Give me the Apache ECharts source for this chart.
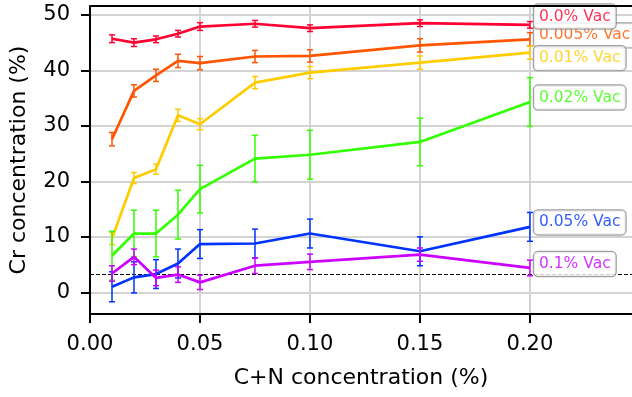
<!DOCTYPE html>
<html>
<head>
<meta charset="utf-8">
<script src="https://cdn.jsdelivr.net/npm/echarts@6/dist/echarts.min.js"></script>
<style>
  html, body { margin: 0; padding: 0; background: #fff; }
  #chart { width: 632px; height: 397px; }
</style>
</head>
<body>
<div id="chart"></div>
<script>
// C+N concentration (%)
const xVals = [0.01, 0.02, 0.03, 0.04, 0.05, 0.075, 0.10, 0.15, 0.20];

// Cr concentration (%) and error for each vacancy level
const vac0 = [45.7, 45.0, 45.6, 46.6, 47.9, 48.4, 47.6, 48.5, 48.2];
const err0 = [0.7, 0.7, 0.6, 0.6, 0.7, 0.6, 0.6, 0.6, 0.6];
const vac005 = [27.6, 36.3, 39.1, 41.7, 41.3, 42.5, 42.6, 44.5, 45.6];
const err005 = [1.2, 1.1, 1.1, 1.2, 1.2, 1.1, 1.1, 1.2, 1.2];
const vac01 = [9.7, 20.6, 22.2, 31.9, 30.3, 37.8, 39.6, 41.4, 43.2];
const err01 = [1.1, 1.0, 0.9, 1.1, 1.0, 1.1, 1.1, 1.2, 1.2];
const vac02 = [6.6, 10.6, 10.6, 14.0, 18.6, 24.1, 24.8, 27.1, 34.3];
const err02 = [4.4, 4.2, 4.2, 4.4, 4.3, 4.2, 4.4, 4.3, 4.4];
const vac05 = [1.0, 2.7, 3.3, 5.2, 8.7, 8.8, 10.6, 7.4, 11.8];
const err05 = [2.7, 2.8, 2.6, 2.6, 2.6, 2.6, 2.6, 2.6, 2.6];
const vac1 = [3.4, 6.4, 2.6, 3.2, 1.8, 4.8, 5.5, 6.8, 4.4];
const err1 = [1.4, 1.4, 1.4, 1.4, 1.3, 1.4, 1.4, 1.2, 1.4];

const seriesNames = ['0.0% Vac', '0.005% Vac', '0.01% Vac', '0.02% Vac', '0.05% Vac', '0.1% Vac'];
const seriesVals = [vac0, vac005, vac01, vac02, vac05, vac1];
const seriesErrs = [err0, err005, err01, err02, err05, err1];
const colors = ['#ff0033', '#ff5500', '#ffcc00', '#33ff00', '#0033ff', '#cc00ff'];

// where the text boxes sit (y, in Cr %) next to the last point
const labelX = 0.20;
const labelY = [49.7, 46.3, 42.2, 35.1, 12.6, 5.1];

// dashed reference level
const refLevel = 3.3;

const xTicks = [0, 0.05, 0.10, 0.15, 0.20];
const yTicks = [0, 10, 20, 30, 40, 50];

const font = 'DejaVu Sans';
const myChart = echarts.init(document.getElementById('chart'));

function errorBars(color) {
    return function (params, api) {
        const x = api.value(0), y = api.value(1), e = api.value(2);
        const top = api.coord([x, y + e]);
        const bot = api.coord([x, y - e]);
        const cap = 3;
        const style = { stroke: color, lineWidth: 1.5 };
        return {
            type: 'group',
            children: [
                { type: 'line', shape: { x1: top[0], y1: top[1], x2: bot[0], y2: bot[1] }, style: style },
                { type: 'line', shape: { x1: top[0] - cap, y1: top[1], x2: top[0] + cap, y2: top[1] }, style: style },
                { type: 'line', shape: { x1: bot[0] - cap, y1: bot[1], x2: bot[0] + cap, y2: bot[1] }, style: style }
            ]
        };
    };
}

let series = [];
seriesNames.forEach((name, i) => {
    series.push({
        name: name,
        type: 'line',
        data: xVals.map((x, j) => [x, seriesVals[i][j]]),
        showSymbol: false,
        lineStyle: { color: colors[i], width: 2.7 },
        z: 3 + i,
        animation: false,
        markLine: i === 0 ? {
            silent: true,
            symbol: 'none',
            label: { show: false },
            lineStyle: { color: '#000', type: [4, 2], width: 1.2 },
            data: [{ yAxis: refLevel }]
        } : undefined
    });
    series.push({
        name: name + ' err',
        type: 'custom',
        renderItem: errorBars(colors[i]),
        data: xVals.map((x, j) => [x, seriesVals[i][j], seriesErrs[i][j]]),
        z: 3 + i,
        animation: false
    });
});

// text boxes
const labelOrder = [1, 0, 2, 3, 4, 5];
labelOrder.forEach((i, k) => {
    series.push({
        type: 'scatter',
        symbolSize: 0,
        data: [[labelX, labelY[i]]],
        z: 20 + k,
        animation: false,
        label: {
            show: true,
            position: 'right',
            distance: 4,
            formatter: seriesNames[i],
            color: colors[i],
            fontFamily: font,
            fontSize: 15.5,
            lineHeight: 18,
            backgroundColor: '#fff',
            borderColor: '#888',
            borderWidth: 1.2,
            borderRadius: 4,
            padding: [3, 5]
        }
    });
});

let option = {
    backgroundColor: '#fff',
    animation: false,
    grid: { left: 90, right: 0, top: 6, bottom: 83 },
    xAxis: {
        type: 'value',
        min: 0,
        max: 0.2464,
        name: 'C+N concentration (%)',
        nameLocation: 'middle',
        nameGap: 53,
        nameTextStyle: { fontFamily: font, fontSize: 22, color: '#000' },
        axisLine: { show: true, onZero: false, lineStyle: { color: '#000', width: 2 } },
        axisTick: { show: true, length: 9, customValues: xTicks, lineStyle: { color: '#000', width: 2 } },
        axisLabel: {
            customValues: xTicks,
            formatter: v => v.toFixed(2),
            fontFamily: font, fontSize: 21, color: '#000', margin: 20
        },
        splitLine: { show: true, lineStyle: { color: '#d4d4d4', width: 2 } }
    },
    yAxis: {
        type: 'value',
        min: -3.9,
        max: 51.6,
        name: 'Cr concentration (%)',
        nameLocation: 'middle',
        nameGap: 60,
        nameTextStyle: { fontFamily: font, fontSize: 22, color: '#000' },
        axisLine: { show: true, onZero: false, lineStyle: { color: '#000', width: 2 } },
        axisTick: { show: true, length: 9, customValues: yTicks, lineStyle: { color: '#000', width: 2 } },
        axisLabel: {
            customValues: yTicks,
            fontFamily: font, fontSize: 21, color: '#000', margin: 20
        },
        splitLine: { show: true, lineStyle: { color: '#d4d4d4', width: 2 } }
    },
    series: series
};

myChart.setOption(option, true);

// top spine
const topLeft = myChart.convertToPixel({ gridIndex: 0 }, [0, 51.6]);
myChart.setOption({
    graphic: [{
        type: 'line',
        shape: { x1: topLeft[0], y1: topLeft[1], x2: 632, y2: topLeft[1] },
        style: { stroke: '#000', lineWidth: 2 },
        z: 30
    }]
});
</script>
</body>
</html>
